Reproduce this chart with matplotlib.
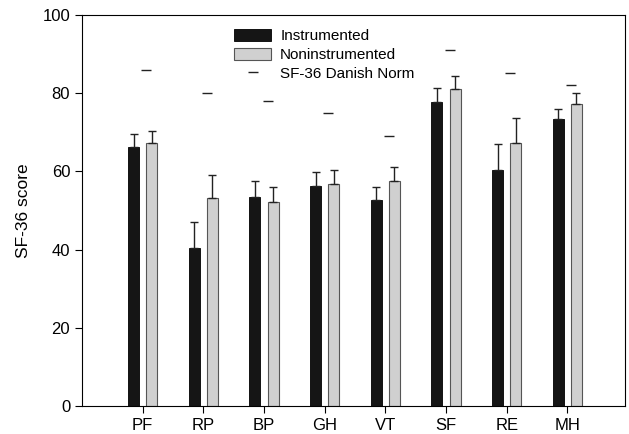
import matplotlib
matplotlib.use('Agg')
import matplotlib.pyplot as plt
import numpy as np

plt.rcParams['font.family'] = ['Liberation Sans', 'DejaVu Sans']

categories = ['PF', 'RP', 'BP', 'GH', 'VT', 'SF', 'RE', 'MH']
instrumented = [66.3, 40.5, 53.5, 56.2, 52.6, 77.8, 60.4, 73.4]
instrumented_err = [3.3, 6.5, 4.0, 3.6, 3.4, 3.5, 6.7, 2.6]
noninstrumented = [67.2, 53.2, 52.2, 56.8, 57.6, 81.0, 67.3, 77.2]
noninstrumented_err = [3.1, 5.8, 3.8, 3.6, 3.6, 3.4, 6.4, 2.8]
danish_norm = [85.9, 80.0, 78.1, 75.0, 69.1, 91.0, 85.1, 82.0]

x = np.arange(1, len(categories) + 1)
w = 0.18
off = 0.15

fig = plt.figure(figsize=(6.29, 4.34), dpi=100)
ax = fig.add_axes([82 / 629, 28 / 434, 543 / 629, 391 / 434])

b1 = ax.bar(x - off, instrumented, w, color='#151515', edgecolor='#000000', linewidth=0.6,
            yerr=[np.zeros(8), instrumented_err],
            error_kw=dict(ecolor='#222222', elinewidth=1.0, capsize=3, capthick=1.0),
            label='Instrumented')
b2 = ax.bar(x + off, noninstrumented, w, color='#d0d0d0', edgecolor='#555555', linewidth=0.8,
            yerr=[np.zeros(8), noninstrumented_err],
            error_kw=dict(ecolor='#222222', elinewidth=1.0, capsize=3, capthick=1.0),
            label='Noninstrumented')
ln, = ax.plot(x + 0.06, danish_norm, linestyle='none', marker='_', markersize=7, color='#222222',
              markeredgewidth=1.0, label='SF-36 Danish Norm')

ax.set_xlim(0, 8.95)
ax.set_ylim(0, 100)
ax.set_yticks(range(0, 101, 20))
ax.set_xticks(x)
ax.set_xticklabels(categories)
ax.set_ylabel('SF-36 score', fontsize=12.5, labelpad=8)
ax.tick_params(direction='out', length=5, labelsize=12, width=0.8)
ax.tick_params(axis='x', pad=4)
for s in ax.spines.values():
    s.set_linewidth(0.8)

ax.legend([b1, b2, ln], ['Instrumented', 'Noninstrumented', 'SF-36 Danish Norm'],
          loc='upper left', bbox_to_anchor=(0.258, 0.995), frameon=False, fontsize=11,
          handlelength=2.4, handleheight=0.8, handletextpad=0.6, labelspacing=0.3, borderpad=0.3)

fig.savefig('out.png', dpi=100)
